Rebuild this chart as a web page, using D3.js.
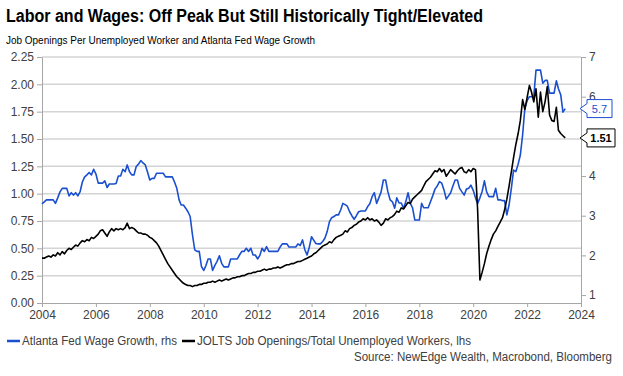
<!DOCTYPE html>
<html>
<head>
<meta charset="utf-8">
<script src="https://cdn.jsdelivr.net/npm/d3@7"></script>
<style>
  body { margin: 0; background: #fff; }
  svg { display: block; font-family: "Liberation Sans", Arial, sans-serif; }
</style>
</head>
<body>
<svg id="chart"></svg>
<script>
// Monthly observations, Jan 2004 .. Jun 2023
const months = d3.timeMonth.range(new Date(2004, 0, 1), new Date(2023, 6, 1));

// JOLTS job openings / total unemployed workers (lhs)
const joltsRatio = [
  0.41,0.41,0.42,0.43,0.42,0.44,0.43,0.46,0.44,0.47,0.45,0.48, // 2004
  0.50,0.49,0.51,0.53,0.52,0.55,0.57,0.56,0.58,0.57,0.60,0.59, // 2005
  0.61,0.63,0.66,0.67,0.64,0.61,0.65,0.68,0.66,0.68,0.67,0.68, // 2006
  0.67,0.69,0.73,0.68,0.69,0.68,0.66,0.64,0.64,0.63,0.63,0.62, // 2007
  0.60,0.59,0.57,0.55,0.52,0.48,0.44,0.40,0.36,0.33,0.30,0.27, // 2008
  0.24,0.22,0.20,0.18,0.17,0.16,0.16,0.15,0.16,0.16,0.17,0.17, // 2009
  0.18,0.18,0.19,0.19,0.20,0.19,0.20,0.21,0.20,0.21,0.22,0.21, // 2010
  0.22,0.23,0.23,0.24,0.24,0.25,0.25,0.26,0.27,0.27,0.28,0.28, // 2011
  0.29,0.29,0.30,0.31,0.30,0.31,0.31,0.32,0.32,0.33,0.32,0.33, // 2012
  0.34,0.35,0.35,0.36,0.36,0.37,0.38,0.38,0.39,0.40,0.41,0.42, // 2013
  0.43,0.45,0.46,0.48,0.50,0.52,0.53,0.54,0.56,0.55,0.58,0.60, // 2014
  0.61,0.62,0.63,0.66,0.65,0.68,0.69,0.71,0.72,0.74,0.75,0.77, // 2015
  0.76,0.78,0.76,0.77,0.75,0.76,0.74,0.71,0.73,0.77,0.76,0.78, // 2016
  0.79,0.81,0.84,0.83,0.87,0.86,0.89,0.92,0.91,0.95,0.97,0.99, // 2017
  1.01,1.03,1.07,1.11,1.13,1.15,1.18,1.21,1.20,1.23,1.20,1.22, // 2018
  1.16,1.19,1.22,1.20,1.18,1.21,1.23,1.24,1.20,1.19,1.22,1.20, // 2019
  1.23,1.22,0.85,0.21,0.28,0.36,0.45,0.52,0.58,0.63,0.66,0.70, // 2020
  0.74,0.78,0.85,0.95,1.07,1.20,1.33,1.45,1.55,1.67,1.86,1.77, // 2021
  1.88,1.99,1.93,1.84,1.96,1.70,1.93,1.75,1.84,1.98,1.72,1.67, // 2022
  1.66,1.79,1.58,1.55,1.53,1.51                                // 2023
];

// Atlanta Fed wage growth tracker, % (rhs)
const wageGrowth = [
  3.30,3.35,3.40,3.40,3.40,3.40,3.31,3.45,3.60,3.69,3.69,3.69, // 2004
  3.50,3.58,3.52,3.58,3.50,3.61,3.85,3.98,4.03,4.09,4.03,4.17, // 2005
  4.05,3.82,3.82,3.82,3.88,3.71,3.80,3.80,3.80,3.81,4.00,4.00, // 2006
  4.17,4.11,4.28,4.11,4.03,4.03,4.24,4.30,4.39,4.33,4.28,4.10, // 2007
  3.90,3.94,3.94,4.07,4.07,4.07,4.07,3.98,3.98,3.98,3.98,3.85, // 2008
  3.69,3.40,3.27,3.27,3.19,3.10,2.98,2.52,2.14,2.10,2.10,1.72, // 2009
  1.62,1.75,1.91,1.91,1.62,1.75,1.85,1.99,1.80,1.71,1.71,1.71, // 2010
  1.91,1.91,1.91,1.91,2.01,2.10,2.10,2.18,2.10,2.18,2.01,2.01, // 2011
  1.91,2.00,2.18,2.10,2.22,2.10,2.10,2.10,2.10,2.10,2.21,2.29, // 2012
  2.29,2.29,2.21,2.21,2.21,2.21,2.29,2.25,2.39,2.15,2.01,2.20, // 2013
  2.47,2.38,2.30,2.29,2.29,2.35,2.43,2.60,2.85,2.95,2.98,3.02, // 2014
  3.02,3.15,3.31,3.28,3.24,3.10,3.00,2.91,3.00,3.10,3.12,3.12, // 2015
  3.12,3.23,3.30,3.48,3.58,3.31,3.45,3.60,3.90,3.90,3.60,3.40, // 2016
  3.35,3.19,3.45,3.32,3.32,3.19,3.35,3.58,3.31,3.20,2.89,2.89, // 2017
  2.89,3.31,3.20,3.20,3.20,3.35,3.50,3.67,3.75,3.86,3.82,3.65, // 2018
  3.42,3.50,3.58,3.75,3.90,3.90,3.69,3.60,3.52,3.67,3.69,3.77, // 2019
  3.64,3.45,3.31,3.45,3.61,3.88,3.60,3.48,3.48,3.48,3.69,3.40, // 2020
  3.40,3.38,3.38,3.02,3.27,3.69,4.15,4.11,4.30,4.53,5.04,5.71, // 2021
  5.90,6.00,6.00,6.00,6.67,6.67,6.67,6.34,6.41,6.41,6.09,6.09, // 2022
  6.09,6.40,6.20,6.05,5.61,5.70                                // 2023
];

const leftTicks = [0, 0.25, 0.5, 0.75, 1.0, 1.25, 1.5, 1.75, 2.0, 2.25];
// "5" sits under the 1.51 callout in the original, so it is not labelled
const rightTicks = [1, 2, 3, 4, 6, 7];
const yearTicks = d3.range(2004, 2025, 2).map(y => new Date(y, 0, 1));

const width = 623, height = 376;
const margin = { top: 57, right: 42, bottom: 73, left: 42 };
const BLUE = '#1a4fd0';
const AXIS = '#a6a6a6';
const GRID = '#d4d4d4';
const LABEL = '#404040';

const svg = d3.select('#chart')
  .attr('width', width)
  .attr('height', height)
  .attr('viewBox', `0 0 ${width} ${height}`);

svg.append('rect').attr('width', width).attr('height', height).attr('fill', '#fff');

const x = d3.scaleTime()
  .domain([new Date(2004, 0, 1), new Date(2024, 0, 1)])
  .range([margin.left, width - margin.right]);

const yL = d3.scaleLinear()
  .domain([0, 2.25])
  .range([height - margin.bottom, margin.top]);

const yR = d3.scaleLinear()
  .domain([0.8, 7])
  .range([height - margin.bottom, margin.top]);

// Title + subtitle
svg.append('text')
  .attr('x', 6).attr('y', 22)
  .attr('font-size', '18px')
  .attr('font-weight', 'bold')
  .attr('fill', '#000')
  .attr('textLength', 477)
  .attr('lengthAdjust', 'spacingAndGlyphs')
  .text('Labor and Wages: Off Peak But Still Historically Tight/Elevated');

svg.append('text')
  .attr('x', 6).attr('y', 44)
  .attr('font-size', '10px')
  .attr('fill', '#000')
  .attr('textLength', 309)
  .attr('lengthAdjust', 'spacingAndGlyphs')
  .text('Job Openings Per Unemployed Worker and Atlanta Fed Wage Growth');

// Gridlines (left axis ticks)
svg.append('g')
  .selectAll('line')
  .data(leftTicks.filter(d => d > 0))
  .join('line')
  .attr('x1', margin.left).attr('x2', width - margin.right)
  .attr('y1', d => yL(d)).attr('y2', d => yL(d))
  .attr('stroke', GRID)
  .attr('stroke-width', 1.5);

// Axes
const styleAxis = g => {
  g.select('.domain').attr('stroke', AXIS);
  g.selectAll('.tick line').attr('stroke', AXIS);
  g.selectAll('.tick text').attr('fill', LABEL).attr('font-size', '12px')
    .attr('font-family', '"Liberation Sans", Arial, sans-serif');
};

svg.append('g')
  .attr('transform', `translate(${margin.left},0)`)
  .call(d3.axisLeft(yL).tickValues(leftTicks).tickFormat(d3.format('.2f')).tickSize(5).tickPadding(3).tickSizeOuter(0))
  .call(styleAxis);

svg.append('g')
  .attr('transform', `translate(${width - margin.right},0)`)
  .call(d3.axisRight(yR).tickValues(rightTicks).tickFormat(d3.format('d')).tickSize(5).tickPadding(3).tickSizeOuter(0))
  .call(styleAxis);

svg.append('g')
  .attr('transform', `translate(0,${height - margin.bottom})`)
  .call(d3.axisBottom(x).tickValues(yearTicks).tickFormat(d3.timeFormat('%Y')).tickSize(4).tickPadding(3).tickSizeOuter(0))
  .call(styleAxis);

// Lines
const lineL = d3.line().x((d, i) => x(months[i])).y(d => yL(d));
const lineR = d3.line().x((d, i) => x(months[i])).y(d => yR(d));

svg.append('path')
  .datum(wageGrowth)
  .attr('fill', 'none')
  .attr('stroke', BLUE)
  .attr('stroke-width', 1.6)
  .attr('stroke-linejoin', 'round')
  .attr('d', lineR);

svg.append('path')
  .datum(joltsRatio)
  .attr('fill', 'none')
  .attr('stroke', '#000')
  .attr('stroke-width', 1.6)
  .attr('stroke-linejoin', 'round')
  .attr('d', lineL);

// Last-value callouts
function callout(cy, txt, color, bold, w) {
  const tip = width - margin.right - 1;
  const left = tip + 7, top = cy - 9, bottom = cy + 9, right = left + w;
  svg.append('path')
    .attr('d', `M${tip},${cy} L${left},${cy - 5} L${left},${top} L${right},${top} L${right},${bottom} L${left},${bottom} L${left},${cy + 5} Z`)
    .attr('fill', '#fff')
    .attr('stroke', color)
    .attr('stroke-width', 1);
  svg.append('text')
    .attr('x', left + w / 2).attr('y', cy + 4)
    .attr('text-anchor', 'middle')
    .attr('font-size', '11px')
    .attr('font-weight', bold ? 'bold' : 'normal')
    .attr('fill', color)
    .text(txt);
}
callout(yR(wageGrowth[wageGrowth.length - 1]), d3.format('.1f')(wageGrowth[wageGrowth.length - 1]), BLUE, false, 25);
callout(yL(joltsRatio[joltsRatio.length - 1]), d3.format('.2f')(joltsRatio[joltsRatio.length - 1]), '#000', true, 28);

// Legend
const legend = svg.append('g').attr('transform', 'translate(0,341)');
const legendItems = [
  { label: 'Atlanta Fed Wage Growth, rhs', color: BLUE, x: 7, w: 155 },
  { label: 'JOLTS Job Openings/Total Unemployed Workers, lhs', color: '#000', x: 182, w: 274 }
];
legendItems.forEach(d => {
  legend.append('line')
    .attr('x1', d.x).attr('x2', d.x + 13)
    .attr('y1', 0).attr('y2', 0)
    .attr('stroke', d.color).attr('stroke-width', 2.5);
  legend.append('text')
    .attr('x', d.x + 15).attr('y', 4)
    .attr('font-size', '12px')
    .attr('fill', LABEL)
    .attr('textLength', d.w)
    .attr('lengthAdjust', 'spacingAndGlyphs')
    .text(d.label);
});

svg.append('text')
  .attr('x', 612).attr('y', 361)
  .attr('text-anchor', 'end')
  .attr('font-size', '12px')
  .attr('fill', LABEL)
  .attr('textLength', 258)
  .attr('lengthAdjust', 'spacingAndGlyphs')
  .text('Source: NewEdge Wealth, Macrobond, Bloomberg');
</script>
</body>
</html>
